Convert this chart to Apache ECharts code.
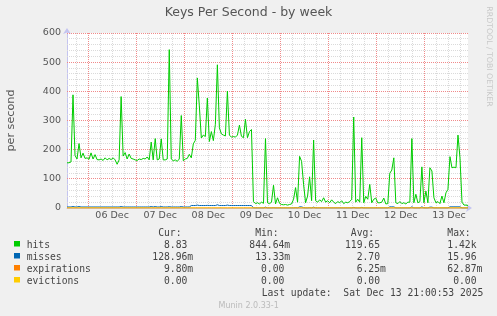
<!DOCTYPE html>
<html><head><meta charset="utf-8">
<script src="https://cdn.jsdelivr.net/npm/echarts@6/dist/echarts.min.js"></script>
<style>html,body{margin:0;padding:0;background:#f0f0f0}#c{width:497px;height:316px}</style>
</head><body><div id="c"></div>
<script>
// time in hours from 05 Dec 00:00
const startHour = 13.5;
const stepHours = 1;
const hits = [
155,155,158,388,180,168,221,172,188,170,
172,167,189,168,183,166,165,168,163,172,
165,170,166,172,165,150,165,382,178,190,
168,185,170,168,165,163,168,166,170,168,
175,165,226,165,238,165,168,237,165,165,
168,543,168,162,165,160,168,317,162,168,
170,184,172,220,232,446,350,240,250,245,
377,228,262,231,287,491,275,254,250,247,
401,250,243,245,243,250,284,246,241,304,
241,262,269,22,15,18,14,20,16,238,
18,15,20,78,14,35,16,12,11,12,
10,12,14,30,70,20,177,160,81,18,
41,107,25,233,25,20,28,22,35,20,
25,18,28,20,15,22,18,25,15,20,
18,22,30,312,20,30,20,241,18,40,
30,81,18,30,34,18,18,20,34,14,
15,119,130,172,18,15,22,15,18,14,
20,20,238,18,47,18,22,141,18,58,
18,138,127,35,18,22,15,41,18,52,
64,176,138,140,138,250,172,20,10,10,
8.83
];
const misses = [
3.5,3.5,3.5,5,3.5,3.5,5,3.5,3.5,3.5,
3.5,3.5,3.5,3.5,3.5,3.5,3.5,3.5,3.5,3.5,
3.5,3.5,3.5,3.5,3.5,3.5,3.5,5,3.5,3.5,
3.5,3.5,3.5,3.5,3.5,3.5,3.5,3.5,3.5,3.5,
3.5,3.5,5,3.5,5,3.5,3.5,5,3.5,3.5,
3.5,4.5,3.5,3.5,3.5,3.5,3.5,5,3.5,3.5,
3.5,3.5,8.5,8.5,8.5,10,8.5,8.5,8.5,8.5,
9,8.5,8.5,8.5,8.5,11,8.5,8.5,8.5,8.5,
10,8.5,8.5,8.5,8.5,8.5,8.5,8.5,8.5,8.5,
8.5,8.5,8.5,0.5,0.3,0.3,0.3,0.3,0.3,3,
0.3,0.3,0.3,1,0.3,0.3,0.3,0.3,0.3,0.3,
0.3,0.3,0.3,0.3,1,0.3,4,4,1,0.3,
0.3,1,0.3,3,0.3,0.3,0.3,0.3,0.3,0.3,
0.3,0.3,0.3,0.3,0.3,0.3,0.3,0.3,0.3,0.3,
0.3,0.3,0.3,2,0.3,0.3,0.3,2,0.3,0.3,
0.3,0.3,0.3,0.3,0.3,0.3,0.3,0.3,0.3,0.3,
0.3,4,4,4,0.3,0.3,0.3,0.3,0.3,0.3,
0.3,0.3,4,0.3,0.3,0.3,0.3,4,0.3,0.3,
0.3,3,3,0.3,0.3,0.3,0.3,0.3,0.3,0.3,
0.3,4,4,4,4,4,4,0.3,0.3,0.3,
0.13
];
// coarser samples (every 8 hours)
const coarseStep = 8;
const expirations = [0.005,0.006,0.004,0.01,0.005,0.003,0.006,0.063,0.004,0.005,0.006,0.004,0.003,0.005,0.007,0.004,0.006,0.005,0.004,0.006,0.005,0.003,0.006,0.004,0.005,0.0098];
const evictions = [0,0,0,0,0,0,0,0,0,0,0,0,0,0,0,0,0,0,0,0,0,0,0,0,0,0];

const dayLabels = ['06 Dec','07 Dec','08 Dec','09 Dec','10 Dec','11 Dec','12 Dec','13 Dec'];
const dayLabelHours = [36,60,84,108,132,156,180,204];
const yTickLabels = ['0','100','200','300','400','500','600'];

const seriesNames = ['hits','misses','expirations','evictions'];
const seriesColors = ['#00CC00','#0066B3','#FF8000','#FFCC00'];
const colCur = ['  8.83','128.96m','  9.80m','  0.00'];
const colMin = ['844.64m',' 13.33m','  0.00','  0.00'];
const colAvg = ['119.65','  2.70','  6.25m','  0.00'];
const colMax = [' 1.42k',' 15.96',' 62.87m','  0.00'];
const lastUpdate = 'Last update:  Sat Dec 13 21:00:53 2025';

const endHour = startHour + (hits.length - 1) * stepHours;
const yMax = 600;

// grid line positions (every 6 h, every 20 units)
const xGrid = [];
for (let h = 18; h <= endHour; h += 6) xGrid.push(h);
const yGrid = [];
for (let v = 20; v <= yMax; v += 20) yGrid.push(v);

const MINOR = '#dadada';
const MAJOR = '#f08a8a';
const AXISC = '#c4c4f0';
const TXT = '#444';

const chart = echarts.init(document.getElementById('c'), null, {renderer: 'canvas'});

const mono = 'DejaVu Sans Mono';
const fs = 9.7;
const graphics = [];
const rowY = [245.5, 257.5, 269.5, 281.5];
const cols = [[152.3, colCur, ' Cur:'], [249.3, colMin, ' Min:'], [345, colAvg, ' Avg:'], [441.5, colMax, ' Max:']];
cols.forEach(([x, arr, head]) => {
  graphics.push({type:'text', x: x, y: 233.7, style:{text: head, font: fs + 'px "' + mono + '"', fill: TXT, align:'left', verticalAlign:'middle'}});
  arr.forEach((s, i) => graphics.push({type:'text', x: x, y: rowY[i], style:{text: s, font: fs + 'px "' + mono + '"', fill: TXT, align:'left', verticalAlign:'middle'}}));
});
seriesNames.forEach((n, i) => {
  graphics.push({type:'rect', shape:{x:14, y: rowY[i] - 4.5, width:6, height:5.5}, style:{fill: seriesColors[i]}});
  graphics.push({type:'text', x: 26.7, y: rowY[i], style:{text: n, font: fs + 'px "' + mono + '"', fill: TXT, align:'left', verticalAlign:'middle'}});
});
graphics.push({type:'text', x: 261.7, y: 293.5, style:{text: lastUpdate, font: fs + 'px "' + mono + '"', fill: TXT, align:'left', verticalAlign:'middle'}});
graphics.push({type:'text', x: 248.7, y: 305.5, style:{text: 'Munin 2.0.33-1', font: '8px "DejaVu Sans"', fill: '#bbbbbb', align:'center', verticalAlign:'middle'}});
graphics.push({type:'text', x: 489, y: 56.5, rotation: -Math.PI/2, style:{text: 'RRDTOOL / TOBI OETIKER', font: '7.8px "DejaVu Sans"', fill: '#c8c8c8', align:'center', verticalAlign:'middle'}});

function lineSeries(name, color, arr, step, z) {
  return {
    name: name, type: 'line', showSymbol: false, symbol: 'none', z: z,
    lineStyle: {width: 1, color: color}, itemStyle: {color: color},
    data: arr.map((v, i) => [startHour + i * step, v]),
    animation: false
  };
}

const crisp = v => Math.round(v - 0.5) + 0.5;

// Grid drawn as one custom item that reads every position from the axes' scales
const gridSeries = {
  type: 'custom', z: 1, silent: true, animation: false, clip: false,
  data: [[startHour, 0]],
  renderItem: (params, api) => {
    const children = [];
    xGrid.forEach(h => {
      const a = api.coord([h, yMax]);
      const b = api.coord([h, 0]);
      const x = crisp(a[0]);
      children.push({type: 'line', shape: {x1: x, y1: a[1], x2: x, y2: b[1]},
        style: {stroke: (h % 24 === 0) ? MAJOR : MINOR, lineWidth: 1, lineDash: [1, 1], fill: null}});
    });
    yGrid.forEach(v => {
      const a = api.coord([startHour, v]);
      const b = api.coord([endHour, v]);
      const y = crisp(a[1]);
      children.push({type: 'line', shape: {x1: a[0], y1: y, x2: b[0], y2: y},
        style: {stroke: (v % 100 === 0) ? MAJOR : MINOR, lineWidth: 1, lineDash: [1, 1], fill: null}});
    });
    return {type: 'group', children: children};
  }
};

chart.setOption({
  backgroundColor: '#f0f0f0',
  animation: false,
  title: {
    text: 'Keys Per Second - by week', left: 'center', top: 6.5, padding: 0,
    textStyle: {fontFamily: 'DejaVu Sans', fontSize: 12.5, fontWeight: 'normal', color: '#555'}
  },
  grid: {left: 67, top: 33, right: 29, bottom: 108, show: true, backgroundColor: '#ffffff', borderWidth: 0, outerBoundsMode: 'none', containLabel: false},
  xAxis: {
    type: 'value', min: startHour, max: endHour,
    axisLine: {show: true, onZero: false, lineStyle: {color: AXISC, width: 1}, symbol: ['none', 'arrow'], symbolSize: [6, 6], symbolOffset: [0, 4]},
    axisTick: {show: false},
    axisLabel: {customValues: dayLabelHours, formatter: v => dayLabels[dayLabelHours.indexOf(v)], fontFamily: 'DejaVu Sans', fontSize: 9.5, color: '#555', margin: 3},
    splitLine: {show: false}
  },
  yAxis: {
    type: 'value', min: 0, max: yMax, interval: 100,
    name: 'per second', nameLocation: 'middle', nameGap: 50, nameRotate: 90,
    nameTextStyle: {fontFamily: 'DejaVu Sans', fontSize: 11.2, color: '#555'},
    axisLine: {show: true, lineStyle: {color: AXISC, width: 1}, symbol: ['none', 'arrow'], symbolSize: [6, 6], symbolOffset: [0, 5]},
    axisTick: {show: false},
    axisLabel: {formatter: v => yTickLabels[v / 100], fontFamily: 'DejaVu Sans', fontSize: 9.5, color: '#555', margin: 6},
    splitLine: {show: false}
  },
  series: [
    gridSeries,
    lineSeries('hits', seriesColors[0], hits, stepHours, 2),
    lineSeries('misses', seriesColors[1], misses, stepHours, 3),
    lineSeries('expirations', seriesColors[2], expirations, coarseStep, 4),
    lineSeries('evictions', seriesColors[3], evictions, coarseStep, 5)
  ],
  graphic: graphics
});
</script></body></html>
